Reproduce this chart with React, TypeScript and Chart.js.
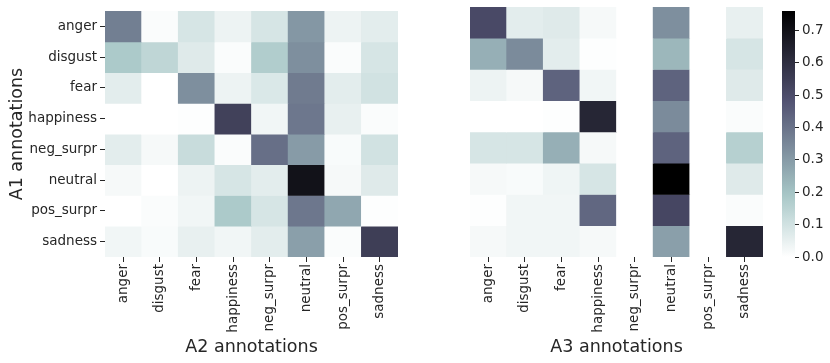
import React, { useEffect, useRef } from "react";
import { Chart, registerables } from "chart.js";

Chart.register(...registerables);

const ROWS = ["anger", "disgust", "fear", "happiness", "neg_surpr", "neutral", "pos_surpr", "sadness"];
const A2_COLS = ["anger", "disgust", "fear", "happiness", "neg_surpr", "neutral", "pos_surpr", "sadness"];
const A3_COLS = ["anger", "disgust", "fear", "happiness", "neg_surpr", "neutral", "pos_surpr", "sadness"];

// A1 (rows) vs A2 (columns)
const A2_ANGER = [0.37, 0.01, 0.09, 0.04, 0.09, 0.31, 0.04, 0.06];
const A2_DISGUST = [0.18, 0.14, 0.07, 0.01, 0.17, 0.33, 0.01, 0.09];
const A2_FEAR = [0.06, 0.0, 0.33, 0.04, 0.08, 0.38, 0.06, 0.1];
const A2_HAPPINESS = [0.0, 0.0, 0.005, 0.54, 0.03, 0.39, 0.05, 0.01];
const A2_NEG_SURPR = [0.06, 0.02, 0.12, 0.01, 0.41, 0.3, 0.015, 0.1];
const A2_NEUTRAL = [0.02, 0.0, 0.04, 0.09, 0.06, 0.7, 0.02, 0.07];
const A2_POS_SURPR = [0.0, 0.01, 0.03, 0.18, 0.09, 0.39, 0.27, 0.005];
const A2_SADNESS = [0.03, 0.015, 0.05, 0.03, 0.06, 0.29, 0.01, 0.55];

// A1 (rows) vs A3 (columns)
const A3_ANGER = [0.51, 0.06, 0.07, 0.02, 0, 0.33, 0, 0.05];
const A3_DISGUST = [0.25, 0.34, 0.06, 0.005, 0, 0.23, 0, 0.09];
const A3_FEAR = [0.04, 0.02, 0.44, 0.03, 0, 0.44, 0, 0.07];
const A3_HAPPINESS = [0.0, 0.0, 0.005, 0.63, 0, 0.34, 0, 0.01];
const A3_NEG_SURPR = [0.09, 0.09, 0.25, 0.02, 0, 0.44, 0, 0.16];
const A3_NEUTRAL = [0.02, 0.015, 0.035, 0.09, 0, 0.76, 0, 0.07];
const A3_POS_SURPR = [0.005, 0.03, 0.03, 0.43, 0, 0.52, 0, 0.01];
const A3_SADNESS = [0.02, 0.03, 0.03, 0.02, 0, 0.29, 0, 0.63];

const A2_VALUES = [A2_ANGER, A2_DISGUST, A2_FEAR, A2_HAPPINESS, A2_NEG_SURPR, A2_NEUTRAL, A2_POS_SURPR, A2_SADNESS];
const A3_VALUES = [A3_ANGER, A3_DISGUST, A3_FEAR, A3_HAPPINESS, A3_NEG_SURPR, A3_NEUTRAL, A3_POS_SURPR, A3_SADNESS];

const VMAX = 0.76;
const CBAR_TICKS = [0.0, 0.1, 0.2, 0.3, 0.4, 0.5, 0.6, 0.7];

const TEXT = "#262626";
const FONT = "'DejaVu Sans', sans-serif";
const TICK_SIZE = 13.5;
const TITLE_SIZE = 17.5;

// matplotlib "bone" colormap
function bone(s: number): [number, number, number] {
  const r = s < 0.746032 ? 0.875 * s : 0.652778 + (s - 0.746032) * (0.347222 / 0.253968);
  let g: number;
  if (s < 0.365079) g = 0.875 * s;
  else if (s < 0.746032) g = 0.319444 + (s - 0.365079) * (0.458334 / 0.380953);
  else g = 0.777778 + (s - 0.746032) * (0.222222 / 0.253968);
  const b = s < 0.365079 ? 1.217391 * s : 0.444444 + (s - 0.365079) * (0.555556 / 0.634921);
  return [r, g, b];
}
function boneR(t: number): string {
  const c = Math.max(0, Math.min(1, t));
  const [r, g, b] = bone(1 - c);
  return `rgb(${Math.round(r * 255)},${Math.round(g * 255)},${Math.round(b * 255)})`;
}
const colorFor = (v: number) => boneR(v / VMAX);

function heatmapConfig(values: number[][], cols: string[], showY: boolean, xTitle: string, padLeft: number, padRight: number): any {
  return {
    type: "bar",
    data: {
      labels: cols,
      datasets: ROWS.map((r, i) => ({
        label: r,
        data: cols.map(() => 1),
        backgroundColor: values[i].map(colorFor),
        borderWidth: 0,
        barPercentage: 1,
        categoryPercentage: 1,
        stack: "s",
      })),
    },
    options: {
      responsive: false,
      animation: false,
      maintainAspectRatio: false,
      layout: { padding: { top: 7, left: padLeft, right: padRight, bottom: 0 } },
      plugins: { legend: { display: false }, tooltip: { enabled: false } },
      scales: {
        x: {
          type: "category",
          stacked: true,
          border: { display: false },
          grid: { offset: false, drawOnChartArea: false, drawTicks: true, tickLength: 5, color: TEXT, lineWidth: 1 },
          ticks: { minRotation: 90, maxRotation: 90, autoSkip: false, padding: 2, color: TEXT, font: { family: FONT, size: TICK_SIZE } },
          title: { display: true, text: xTitle, color: TEXT, font: { family: FONT, size: TITLE_SIZE }, padding: { top: 0, bottom: 5 } },
          afterFit: (s: any) => { s.height = 106; },
        },
        y: {
          type: "linear",
          stacked: true,
          min: 0,
          max: 8,
          reverse: true,
          display: showY,
          border: { display: false },
          grid: { drawOnChartArea: false, drawTicks: true, tickLength: 5, color: TEXT, lineWidth: 1 },
          afterBuildTicks: (s: any) => { s.ticks = ROWS.map((_, i) => ({ value: i + 0.5 })); },
          ticks: { autoSkip: false, padding: 3, color: TEXT, font: { family: FONT, size: TICK_SIZE }, callback: (_v: any, i: number) => ROWS[i] },
          title: { display: true, text: "A1 annotations", color: TEXT, font: { family: FONT, size: TITLE_SIZE }, padding: { top: 7, bottom: 0 } },
          afterFit: (s: any) => { s.width = showY ? 105 : 0; },
        },
      },
    },
  };
}

function colorbarConfig(): any {
  return {
    type: "bar",
    data: {
      labels: ["scale"],
      datasets: [{
        data: [VMAX],
        borderWidth: 0,
        barPercentage: 1,
        categoryPercentage: 1,
        backgroundColor: (ctx: any) => {
          const a = ctx.chart.chartArea;
          if (!a) return "#fff";
          const g = ctx.chart.ctx.createLinearGradient(0, a.bottom, 0, a.top);
          for (let k = 0; k <= 40; k++) g.addColorStop(k / 40, boneR(k / 40));
          return g;
        },
      }],
    },
    options: {
      responsive: false,
      animation: false,
      maintainAspectRatio: false,
      layout: { padding: { top: 7, left: 12, right: 0, bottom: 106 } },
      plugins: { legend: { display: false }, tooltip: { enabled: false } },
      scales: {
        x: { display: false },
        y: {
          position: "right",
          min: 0,
          max: VMAX,
          border: { display: false },
          grid: { drawOnChartArea: false, drawTicks: true, tickLength: 4, color: TEXT, lineWidth: 1 },
          afterBuildTicks: (s: any) => { s.ticks = CBAR_TICKS.map((v) => ({ value: v })); },
          ticks: { padding: 3, color: TEXT, font: { family: FONT, size: TICK_SIZE }, callback: (v: any) => Number(v).toFixed(1) },
          afterFit: (s: any) => { s.width = 35; },
        },
      },
    },
  };
}

export default function App() {
  const leftRef = useRef<HTMLCanvasElement>(null);
  const rightRef = useRef<HTMLCanvasElement>(null);
  const cbarRef = useRef<HTMLCanvasElement>(null);

  useEffect(() => {
    const charts: Chart[] = [];
    if (leftRef.current) charts.push(new Chart(leftRef.current, heatmapConfig(A2_VALUES, A2_COLS, true, "A2 annotations", 0, 22)));
    if (rightRef.current) charts.push(new Chart(rightRef.current, heatmapConfig(A3_VALUES, A3_COLS, false, "A3 annotations", 10, 7)));
    if (cbarRef.current) charts.push(new Chart(cbarRef.current, colorbarConfig()));
    return () => charts.forEach((c) => c.destroy());
  }, []);

  const abs = (left: number, width: number): React.CSSProperties => ({ position: "absolute", left, top: 0, width, height: 363, display: "block" });

  return (
    <div style={{ position: "fixed", left: 0, top: 0, width: 830, height: 363, background: "#fff", overflow: "hidden" }}>
      <canvas ref={leftRef} width={420} height={363} style={abs(0, 420)} />
      <canvas ref={rightRef} width={310} height={363} style={abs(460, 310)} />
      <canvas ref={cbarRef} width={60} height={363} style={abs(770, 60)} />
    </div>
  );
}
